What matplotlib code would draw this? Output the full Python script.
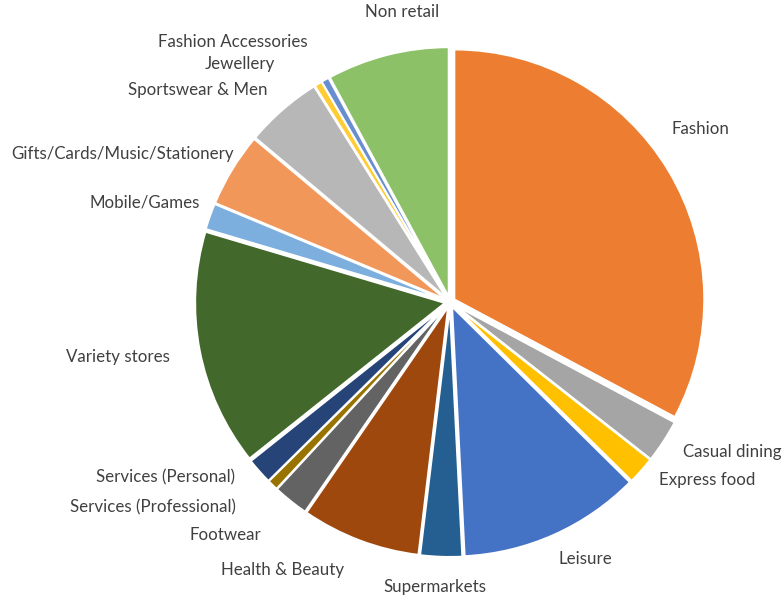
import matplotlib.pyplot as plt

categories = ['Fashion', 'Casual dining', 'Express food', 'Leisure', 'Supermarkets',
              'Health & Beauty', 'Footwear', 'Services (Professional)', 'Services (Personal)',
              'Variety stores', 'Mobile/Games', 'Gifts/Cards/Music/Stationery',
              'Sportswear & Men', 'Jewellery', 'Fashion Accessories', 'Non retail']
shares = [32.8, 2.8, 1.8, 11.8, 2.7, 7.7, 2.3, 0.7, 1.7, 15.3, 1.7, 4.8, 5.0, 0.5, 0.5, 7.9]
colors = ['#ED7D31', '#A5A5A5', '#FFC000', '#4472C4', '#255E91', '#9E480E', '#636363',
          '#997300', '#264478', '#43682B', '#7CAFDD', '#F1975A', '#B7B7B7', '#FFCD33',
          '#698ED0', '#8CC168']

# label anchors in pie-radius units (centre of text)
label_pos = {
    'Fashion': (1.00, 0.69),
    'Casual dining': (1.13, -0.60),
    'Express food': (1.03, -0.71),
    'Leisure': (0.54, -1.03),
    'Supermarkets': (-0.06, -1.14),
    'Health & Beauty': (-0.67, -1.07),
    'Footwear': (-0.90, -0.93),
    'Services (Professional)': (-1.19, -0.82),
    'Services (Personal)': (-1.14, -0.70),
    'Variety stores': (-1.33, -0.22),
    'Mobile/Games': (-1.22, 0.40),
    'Gifts/Cards/Music/Stationery': (-1.31, 0.59),
    'Sportswear & Men': (-1.01, 0.85),
    'Jewellery': (-0.84, 0.95),
    'Fashion Accessories': (-0.87, 1.04),
    'Non retail': (-0.19, 1.16),
}

px = 250.0
W, H = 783, 597
cx, cy = 450, 302

fig = plt.figure(figsize=(W / 100, H / 100), dpi=100)
ax = fig.add_axes([0, 0, 1, 1])
ax.pie(shares, colors=colors, startangle=90, counterclock=False,
       explode=[0.02] * len(shares),
       wedgeprops={'edgecolor': 'white', 'linewidth': 1.5})
ax.set_xlim(-cx / px, (W - cx) / px)
ax.set_ylim(-(H - cy) / px, cy / px)
ax.set_aspect('equal')
ax.axis('off')

for name in categories:
    x, y = label_pos[name]
    ax.text(x, y, name, ha='center', va='center', fontsize=12.2,
            family='Lato', color='#404040')

fig.savefig('out.png', dpi=100)
